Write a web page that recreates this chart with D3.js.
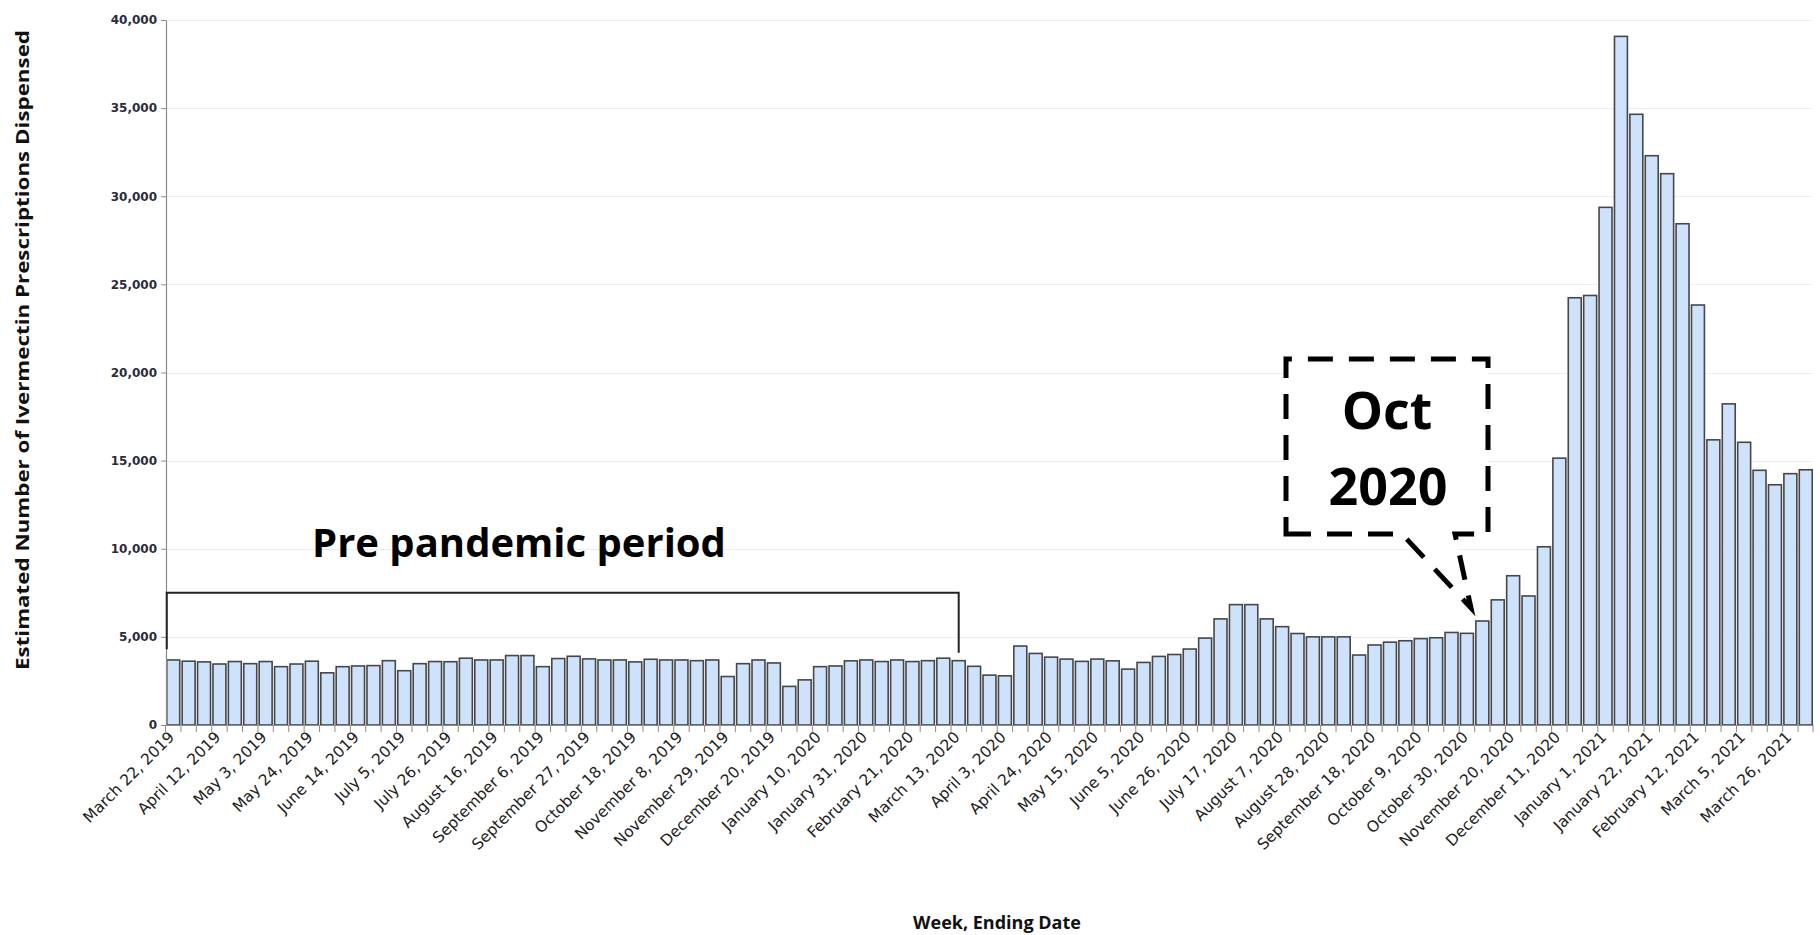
<!DOCTYPE html>
<html><head><meta charset="utf-8">
<script src="https://cdn.jsdelivr.net/npm/d3@7"></script>
<style>body{margin:0;background:#fff} svg{display:block}</style>
</head><body>
<svg id="chart" width="1820" height="935"></svg>
<script>
const weeks = ["March 22, 2019","March 29, 2019","April 5, 2019","April 12, 2019","April 19, 2019","April 26, 2019","May 3, 2019","May 10, 2019","May 17, 2019","May 24, 2019","May 31, 2019","June 7, 2019","June 14, 2019","June 21, 2019","June 28, 2019","July 5, 2019","July 12, 2019","July 19, 2019","July 26, 2019","August 2, 2019","August 9, 2019","August 16, 2019","August 23, 2019","August 30, 2019","September 6, 2019","September 13, 2019","September 20, 2019","September 27, 2019","October 4, 2019","October 11, 2019","October 18, 2019","October 25, 2019","November 1, 2019","November 8, 2019","November 15, 2019","November 22, 2019","November 29, 2019","December 6, 2019","December 13, 2019","December 20, 2019","December 27, 2019",
"January 3, 2020","January 10, 2020","January 17, 2020","January 24, 2020","January 31, 2020","February 7, 2020","February 14, 2020","February 21, 2020","February 28, 2020","March 6, 2020","March 13, 2020","March 20, 2020","March 27, 2020","April 3, 2020","April 10, 2020","April 17, 2020","April 24, 2020","May 1, 2020","May 8, 2020","May 15, 2020","May 22, 2020","May 29, 2020","June 5, 2020","June 12, 2020","June 19, 2020","June 26, 2020","July 3, 2020","July 10, 2020","July 17, 2020","July 24, 2020","July 31, 2020","August 7, 2020","August 14, 2020","August 21, 2020","August 28, 2020","September 4, 2020","September 11, 2020","September 18, 2020","September 25, 2020","October 2, 2020","October 9, 2020","October 16, 2020","October 23, 2020","October 30, 2020","November 6, 2020","November 13, 2020","November 20, 2020","November 27, 2020","December 4, 2020","December 11, 2020","December 18, 2020","December 25, 2020",
"January 1, 2021","January 8, 2021","January 15, 2021","January 22, 2021","January 29, 2021","February 5, 2021","February 12, 2021","February 19, 2021","February 26, 2021","March 5, 2021","March 12, 2021","March 19, 2021","March 26, 2021","April 2, 2021"];

const prescriptions = [3690,3620,3580,3460,3600,3480,3600,3310,3460,3620,
2960,3310,3350,3370,3650,3080,3480,3600,3590,3790,
3690,3690,3940,3940,3310,3770,3900,3750,3690,3690,
3580,3730,3690,3690,3650,3690,2750,3480,3690,3520,
2190,2560,3310,3350,3640,3690,3600,3690,3600,3650,
3790,3650,3330,2830,2790,4480,4060,3850,3740,3610,
3740,3640,3170,3550,3890,4000,4310,4930,6020,6830,
6830,6020,5580,5190,5000,5000,5000,3970,4540,4700,
4780,4900,4950,5250,5200,5900,7100,8470,7320,10110,
15140,24240,24370,29370,39070,34650,32300,31280,28440,23830,
16180,18220,16040,14450,13630,14260,14480];

const tickLabels = ["March 22, 2019","April 12, 2019","May 3, 2019","May 24, 2019","June 14, 2019","July 5, 2019","July 26, 2019","August 16, 2019","September 6, 2019","September 27, 2019","October 18, 2019","November 8, 2019","November 29, 2019","December 20, 2019","January 10, 2020","January 31, 2020","February 21, 2020","March 13, 2020","April 3, 2020","April 24, 2020","May 15, 2020","June 5, 2020","June 26, 2020","July 17, 2020","August 7, 2020","August 28, 2020","September 18, 2020","October 9, 2020","October 30, 2020","November 20, 2020","December 11, 2020","January 1, 2021","January 22, 2021","February 12, 2021","March 5, 2021","March 26, 2021"];

const yTicks = [0,5000,10000,15000,20000,25000,30000,35000,40000];

const svg = d3.select('#chart');
const X0 = 166, X1 = 1813, Y0 = 725, YT = 20;
const x = d3.scaleBand().domain(weeks).range([X0, X1]).paddingInner(0.16).paddingOuter(0.05);
const y = d3.scaleLinear().domain([0, 40000]).range([Y0, YT]);
const step = x.step(), bw = x.bandwidth();

// gridlines
svg.append('g').selectAll('line').data(yTicks.filter(d => d > 0)).join('line')
  .attr('x1', X0).attr('x2', X1)
  .attr('y1', d => Math.round(y(d)) + 0.5).attr('y2', d => Math.round(y(d)) + 0.5)
  .attr('stroke', '#ececec').attr('stroke-width', 1.2);

// bars
svg.append('g').selectAll('rect').data(prescriptions).join('rect')
  .attr('x', (d, i) => x(weeks[i]))
  .attr('y', d => y(d))
  .attr('width', bw)
  .attr('height', d => y(0) - y(d))
  .attr('fill', '#cfe2fc')
  .attr('stroke', '#474747')
  .attr('stroke-width', 1.6);

// y axis
const yAxis = d3.axisLeft(y).tickValues(yTicks).tickFormat(d3.format(',')).tickSize(5).tickSizeOuter(0).tickPadding(4);
const gy = svg.append('g').attr('transform', `translate(${X0},0)`).call(yAxis);
gy.select('.domain').attr('stroke', '#8c8c8c').attr('stroke-width', 1.2);
gy.selectAll('.tick line').attr('stroke', '#8c8c8c');
gy.selectAll('.tick text').attr('font-family', '"DejaVu Sans", Verdana, sans-serif')
  .attr('font-size', 12).attr('font-weight', 'bold').attr('fill', '#2b2b3b');

// x axis
const gx = svg.append('g');
gx.append('line').attr('x1', X0).attr('x2', X1).attr('y1', Y0 + 0.5).attr('y2', Y0 + 0.5)
  .attr('stroke', '#8c8c8c').attr('stroke-width', 1.2);
const bounds = weeks.map(w => x(w) - step * x.paddingInner() / 2).concat([X1]);
gx.selectAll('line.tk').data(bounds).join('line').attr('class', 'tk')
  .attr('x1', d => d).attr('x2', d => d).attr('y1', Y0).attr('y2', Y0 + 7)
  .attr('stroke', '#8c8c8c').attr('stroke-width', 1);
gx.selectAll('text').data(tickLabels).join('text')
  .attr('transform', d => `translate(${x(d) + bw / 2 + 2},${Y0 + 13}) rotate(-45)`)
  .attr('text-anchor', 'end')
  .attr('font-family', '"DejaVu Sans", Verdana, sans-serif')
  .attr('font-size', 15.5).attr('fill', '#222')
  .text(d => d);

// axis titles
svg.append('text').attr('transform', 'translate(29,350) rotate(-90)')
  .attr('text-anchor', 'middle').attr('font-family', '"Open Sans", sans-serif')
  .attr('font-weight', 'bold').attr('font-size', 18).attr('fill', '#111')
  .attr('textLength', 640).attr('lengthAdjust', 'spacingAndGlyphs')
  .text('Estimated Number of Ivermectin Prescriptions Dispensed');
svg.append('text').attr('x', 997).attr('y', 929)
  .attr('text-anchor', 'middle').attr('font-family', '"Open Sans", sans-serif')
  .attr('font-weight', 'bold').attr('font-size', 18).attr('fill', '#111')
  .text('Week, Ending Date');

// pre-pandemic bracket
const bx0 = x(weeks[0]), bx1 = x('March 13, 2020') + bw / 2;
svg.append('path')
  .attr('d', `M${bx0},${y(4300)} V${y(7500)} H${bx1} V${y(4100)}`)
  .attr('fill', 'none').attr('stroke', '#222').attr('stroke-width', 2);
svg.append('text').attr('x', 519).attr('y', 557).attr('text-anchor', 'middle')
  .attr('font-family', '"Open Sans", sans-serif').attr('font-weight', 'bold')
  .attr('font-size', 40).attr('fill', '#000').text('Pre pandemic period');

// Oct 2020 callout
svg.append('path')
  .attr('d', 'M1286,534 L1402,534 L1471,608 L1455,534 L1488,534 L1488,359 L1286,359 Z')
  .attr('fill', '#fff').attr('stroke', '#000').attr('stroke-width', 5)
  .attr('stroke-dasharray', '25,16');
const oct = svg.append('text').attr('text-anchor', 'middle')
  .attr('font-family', '"Open Sans", sans-serif').attr('font-weight', 'bold')
  .attr('font-size', 52).attr('fill', '#000');
oct.append('tspan').attr('x', 1387).attr('y', 429).text('Oct');
oct.append('tspan').attr('x', 1388).attr('y', 505).text('2020');
</script>
</body></html>
